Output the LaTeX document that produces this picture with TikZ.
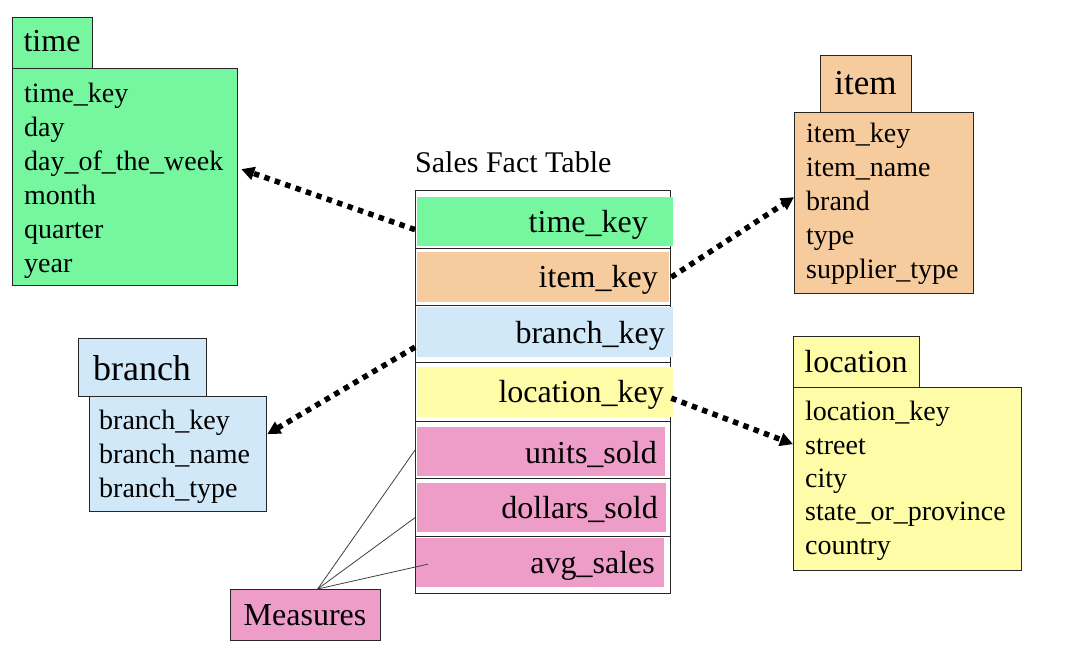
\documentclass[tikz,border=0pt]{standalone}
\usepackage{fontspec}
\setmainfont{Liberation Serif}
\usetikzlibrary{arrows.meta,calc}
\definecolor{cgreen}{HTML}{77F6A0}
\definecolor{corange}{HTML}{F6CB9E}
\definecolor{cblue}{HTML}{D0E8F8}
\definecolor{cyellow}{HTML}{FFFCA8}
\definecolor{cpink}{HTML}{EE9CC8}
\begin{document}
\begin{tikzpicture}[x=1pt,y=-1pt,
  box/.style={draw=black!85, line width=1.3pt, inner sep=0pt, anchor=north west},
  hdr/.style={inner sep=0pt, anchor=base, font=\fontsize{32}{38}\selectfont},
  bodytext/.style={inner sep=0pt, anchor=north west, align=left, font=\fontsize{28}{34}\selectfont},
  facttext/.style={inner sep=0pt, anchor=base east, font=\fontsize{32}{38}\selectfont},
  fill inset/.style={fill=#1, draw=none},
  conn/.style={line width=5.5pt, dash pattern=on 5.5pt off 5.5pt, -{Triangle[length=13pt,width=13pt]}},
  mline/.style={draw=black!75, line width=0.8pt}]
\useasboundingbox (0,0) rectangle (1076,652);
\fill[white] (0,0) rectangle (1076,652);

% time dimension
\node[box, fill=cgreen, minimum width=225pt, minimum height=217pt] (timeb) at (12,68) {};
\node[box, fill=cgreen, minimum width=80pt, minimum height=51pt] (timeh) at (12,17) {};
\node[hdr] (timet) at (52,52) {time};
\node[bodytext] (timel) at (24,83) {time\_key\\day\\day\_of\_the\_week\\month\\quarter\\year};

% item dimension
\node[box, fill=corange, minimum width=179pt, minimum height=181pt] (itemb) at (794,112) {};
\node[box, fill=corange, minimum width=91pt, minimum height=57pt] (itemh) at (820,55) {};
\node[hdr, font=\fontsize{35}{40}\selectfont] (itemt) at (865.5,95) {item};
\node[bodytext] (iteml) at (806,123) {item\_key\\item\_name\\brand\\type\\supplier\_type};

% branch dimension
\node[box, fill=cblue, minimum width=177pt, minimum height=115pt] (branchb) at (89,396) {};
\node[box, fill=cblue, minimum width=128pt, minimum height=58pt] (branchh) at (78,338) {};
\node[hdr, font=\fontsize{36}{42}\selectfont] (brancht) at (142,380) {branch};
\node[bodytext] (branchl) at (99,410) {branch\_key\\branch\_name\\branch\_type};

% location dimension
\node[box, fill=cyellow, minimum width=228pt, minimum height=183pt] (locb) at (793,387) {};
\node[box, fill=cyellow, minimum width=126pt, minimum height=51pt] (loch) at (793,336) {};
\node[hdr] (loct) at (856,372) {location};
\node[bodytext, font=\fontsize{28}{33.4}\selectfont] (locl) at (805,401) {location\_key\\street\\city\\state\_or\_province\\country};

% fact table
\node[inner sep=0pt, anchor=base west, font=\fontsize{30}{36}\selectfont] (facttitle) at (415,173) {Sales Fact Table};
\node[box, fill=white, minimum width=255pt, minimum height=58pt] (r1) at (415,190) {};
\node[box, fill=white, minimum width=255pt, minimum height=57pt] (r2) at (415,248) {};
\node[box, fill=white, minimum width=255pt, minimum height=57pt] (r3) at (415,305) {};
\node[box, fill=white, minimum width=255pt, minimum height=59pt] (r4) at (415,362) {};
\node[box, fill=white, minimum width=255pt, minimum height=57pt] (r5) at (415,421) {};
\node[box, fill=white, minimum width=255pt, minimum height=58pt] (r6) at (415,478) {};
\node[box, fill=white, minimum width=255pt, minimum height=57pt] (r7) at (415,536) {};
\fill[fill inset=cgreen] (417,197) rectangle (673,246);
\fill[fill inset=corange] (417,252) rectangle (669,302);
\fill[fill inset=cblue] (417,307) rectangle (673,357);
\fill[fill inset=cyellow] (417,367) rectangle (673,417);
\fill[fill inset=cpink] (417,427) rectangle (665,476);
\fill[fill inset=cpink] (417,483) rectangle (666,532);
\fill[fill inset=cpink] (416,538) rectangle (664,587);
\node[facttext] (f1) at (648,233) {time\_key};
\node[facttext] (f2) at (658,288) {item\_key};
\node[facttext] (f3) at (665,343) {branch\_key};
\node[facttext] (f4) at (664,402) {location\_key};
\node[facttext] (f5) at (657,463) {units\_sold};
\node[facttext] (f6) at (658,518) {dollars\_sold};
\node[facttext] (f7) at (655,573) {avg\_sales};

% measures
\node[box, fill=cpink, minimum width=150pt, minimum height=51pt] (meas) at (230,589) {};
\node[inner sep=0pt, anchor=base, font=\fontsize{32}{38}\selectfont] (meast) at (305,625) {Measures};
\draw[mline] ([xshift=12pt]meas.north) -- (r5.west);
\draw[mline] ([xshift=12pt]meas.north) -- ([yshift=-10pt]r6.west);
\draw[mline] ([xshift=12pt]meas.north) -- ([xshift=13pt,yshift=1pt]r7.west);

% connectors
\draw[conn] ([yshift=-10pt]r1.west) -- ([xshift=3pt,yshift=8pt]timeb.east);
\draw[conn] (r2.east) -- ([yshift=6pt]itemb.west);
\draw[conn] ([yshift=-13pt]r3.west) -- ([yshift=20pt]branchb.east);
\draw[conn] ([yshift=-6pt]r4.east) -- ([yshift=35pt]locb.west);
\end{tikzpicture}
\end{document}
